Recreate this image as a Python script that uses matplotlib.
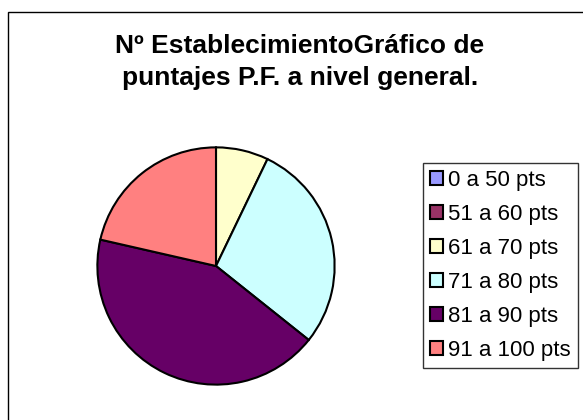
import matplotlib.pyplot as plt
from matplotlib.patches import Rectangle

# Données du graphique
categorias = ["0 a 50 pts", "51 a 60 pts", "61 a 70 pts", "71 a 80 pts", "81 a 90 pts", "91 a 100 pts"]
valores = [0, 0, 1, 4, 6, 3]
colores = ["#9999FF", "#993366", "#FFFFCC", "#CCFFFF", "#660066", "#FF8080"]
titulo = "Nº EstablecimientoGráfico de\npuntajes P.F. a nivel general."

plt.rcParams['font.family'] = ['Liberation Sans', 'DejaVu Sans']

W, H = 583, 420
fig = plt.figure(figsize=(W / 100, H / 100), dpi=100)

# Cadre extérieur (bords droit et bas hors de l'image)
fig.patches.append(Rectangle((8 / W, -0.05), 1.1, 1 - 12 / H + 0.05, transform=fig.transFigure,
                             fill=False, edgecolor="black", linewidth=1.0))

fig.text(300 / W, 1 - 62 / H, titulo, ha="center", va="center", fontsize=19,
         fontweight="bold", linespacing=1.4)

# Camembert
cx, cy, r = 216, 266, 121
ax = fig.add_axes([(cx - r) / W, (H - cy - r) / H, 2 * r / W, 2 * r / H])
wedges, _ = ax.pie(valores, colors=colores, startangle=90, counterclock=False,
                   wedgeprops=dict(edgecolor="black", linewidth=1.5))
ax.set_xlim(-1.02, 1.02)
ax.set_ylim(-1.02, 1.02)
ax.set_aspect("equal")
ax.axis("off")

# Légende
handles = [Rectangle((0, 0), 1, 1, facecolor=c, edgecolor="black", linewidth=1.5) for c in colores]
leg = fig.legend(handles, categorias, loc="upper left", bbox_to_anchor=(423 / W, 1 - 163 / H),
                 fontsize=16, frameon=True, fancybox=False, edgecolor="black",
                 labelspacing=0.58, handlelength=0.6, handleheight=0.6, handletextpad=0.22,
                 borderpad=0.32, borderaxespad=0)
leg.get_frame().set_linewidth(1.0)

fig.savefig("out.png", dpi=100)
